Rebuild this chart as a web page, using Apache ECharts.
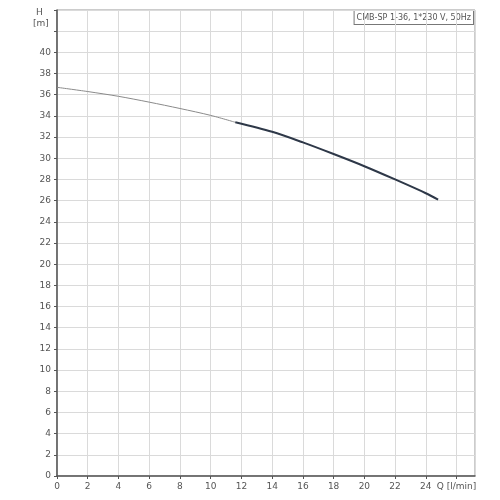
<!DOCTYPE html>
<html>
<head>
<meta charset="utf-8">
<script src="https://cdn.jsdelivr.net/npm/echarts@6/dist/echarts.min.js"></script>
<style>
  html, body { margin: 0; padding: 0; background: #fff; }
  #chart { width: 500px; height: 500px; }
</style>
</head>
<body>
<div id="chart"></div>
<script>
// Q [l/min] -> H [m]
var thinQ = [0, 2, 4, 6, 8, 10, 11.6];
var thinH = [36.7, 36.3, 35.85, 35.3, 34.7, 34.05, 33.4];
var mainQ = [11.6, 14, 16, 18, 20, 22, 24, 24.8];
var mainH = [33.4, 32.5, 31.5, 30.4, 29.25, 28.0, 26.7, 26.1];
var title = "CMB-SP 1-36, 1*230 V, 50Hz";

function pairs(xs, ys) {
  return xs.map(function (x, i) { return [x, ys[i]]; });
}

var chart = echarts.init(document.getElementById("chart"));
var labelStyle = { color: "#555", fontSize: 9, fontFamily: "DejaVu Sans" };

chart.setOption({
  animation: false,
  grid: { left: 57, right: 25, top: 10, bottom: 24, show: true, borderColor: "#999", borderWidth: 1 },
  xAxis: {
    type: "value", min: 0, max: 27.2, interval: 2,
    axisLine: { show: true, onZero: false, lineStyle: { color: "#555", width: 1.5 } },
    axisTick: { show: true, length: 3, lineStyle: { color: "#555" } },
    splitLine: { show: true, lineStyle: { color: "#dadada" } },
    axisLabel: Object.assign({
      margin: 6,
      showMaxLabel: false,
      formatter: function (v) {
        if (v === 26) return "Q [l/min]";
        return v % 2 === 0 ? String(v) : "";
      }
    }, labelStyle)
  },
  yAxis: {
    type: "value", min: 0, max: 44, interval: 2,
    axisLine: { show: true, onZero: false, lineStyle: { color: "#555", width: 1.5 } },
    axisTick: { show: true, length: 3, lineStyle: { color: "#555" } },
    splitLine: { show: true, lineStyle: { color: "#dadada" } },
    axisLabel: Object.assign({
      margin: 6,
      formatter: function (v) { return v > 40 ? "" : String(v); }
    }, labelStyle)
  },
  graphic: [
    { type: "text", left: 36, top: 8, style: { text: "H", fill: "#555", font: "9px DejaVu Sans" } },
    { type: "text", left: 33, top: 19, style: { text: "[m]", fill: "#555", font: "9px DejaVu Sans" } },
    {
      type: "text", right: 26, top: 10,
      style: {
        text: title, fill: "#555", font: "8px DejaVu Sans",
        backgroundColor: "#fff", borderColor: "#777", borderWidth: 1, padding: [3, 2, 2, 2]
      }
    }
  ],
  series: [
    {
      type: "line", data: pairs(thinQ, thinH), smooth: 0.3, symbol: "none",
      lineStyle: { color: "#8a8a8a", width: 1 }
    },
    {
      type: "line", data: pairs(mainQ, mainH), smooth: 0.3, symbol: "none",
      lineStyle: { color: "#2e3848", width: 2 }
    }
  ]
});
</script>
</body>
</html>
